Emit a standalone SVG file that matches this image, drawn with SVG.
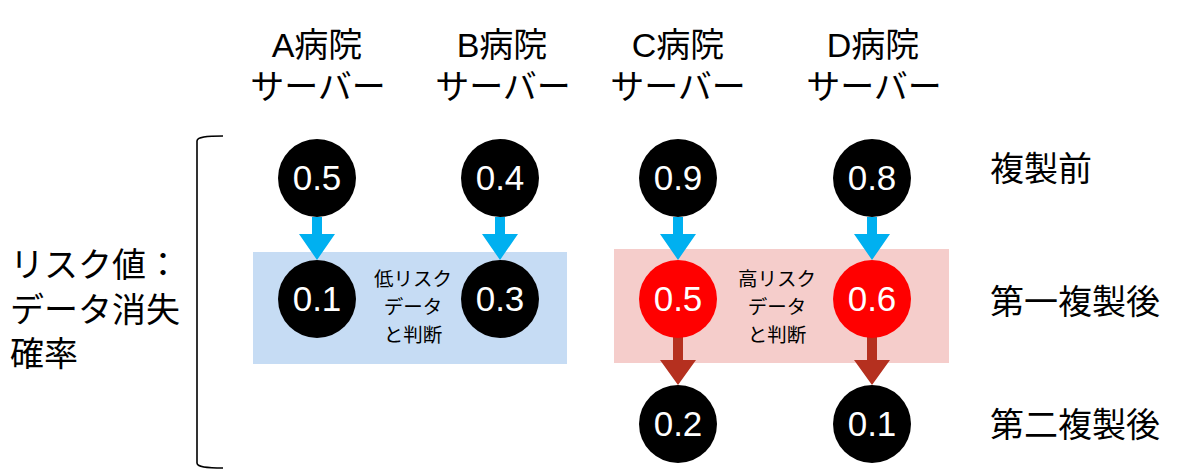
<svg xmlns="http://www.w3.org/2000/svg" width="1184" height="476" viewBox="0 0 1184 476">
<style>
.big{font-family:"Liberation Sans","Noto Sans CJK JP",sans-serif;font-size:34px;fill:#000}
.hdr{text-anchor:middle}
.small{font-family:"Noto Sans CJK JP",sans-serif;font-size:19.5px;fill:#000;text-anchor:middle}
.num{font-family:"Liberation Sans","Noto Sans CJK JP",sans-serif;font-size:35px;fill:#fff;text-anchor:middle}
.blk{fill:#000}
.red{fill:#ff0000}
.ba{fill:#00b0f0}
.ra{fill:#b5301f}
</style>
<rect width="1184" height="476" fill="#fff"/>
<g id="bg-low"><rect x="253" y="252" width="314" height="112" fill="#c6dcf4"/>
<text class="small" x="413" y="286">低リスク</text><text class="small" x="413" y="314">データ</text><text class="small" x="413" y="342">と判断</text></g>
<g id="bg-high"><rect x="614" y="249" width="335" height="114" fill="#f5cdcb"/>
<text class="small" x="777" y="286">高リスク</text><text class="small" x="777" y="314">データ</text><text class="small" x="777" y="342">と判断</text></g>
<g id="headers">
<text class="big hdr" x="317" y="57">A病院</text><text class="big hdr" x="318" y="99">サーバー</text>
<text class="big hdr" x="502" y="57">B病院</text><text class="big hdr" x="503" y="99">サーバー</text>
<text class="big hdr" x="678" y="57">C病院</text><text class="big hdr" x="678" y="99">サーバー</text>
<text class="big hdr" x="873" y="57">D病院</text><text class="big hdr" x="874" y="99">サーバー</text>
</g>
<g id="row-labels">
<text class="big" x="990" y="181">複製前</text>
<text class="big" x="990" y="314">第一複製後</text>
<text class="big" x="990" y="437">第二複製後</text>
</g>
<g id="left-label">
<text class="big" x="10" y="277">リスク値：</text>
<text class="big" x="10" y="322">データ消失</text>
<text class="big" x="10" y="366">確率</text>
<path d="M223,136 C206,136 197,137 197,141 L197,463 C197,467 206,468 223,468" fill="none" stroke="#000" stroke-width="1.6"/>
</g>
<g id="connectors">
<path class="ba" d="M312,217 h10 v17 h13 l-18,26 l-18,-26 h13 z"/>
<path class="ba" d="M495,217 h10 v17 h13 l-18,26 l-18,-26 h13 z"/>
<path class="ba" d="M673,217 h10 v17 h13 l-18,26 l-18,-26 h13 z"/>
<path class="ba" d="M867,217 h10 v17 h13 l-18,26 l-18,-26 h13 z"/>
<path class="ra" d="M673,337 h10 v23 h13 l-18,25 l-18,-25 h13 z"/>
<path class="ra" d="M867,337 h10 v23 h13 l-18,25 l-18,-25 h13 z"/>
</g>
<g id="a1"><circle class="blk" cx="317" cy="178" r="39"/><text class="num" x="317" y="190">0.5</text></g>
<g id="b1"><circle class="blk" cx="500" cy="178" r="39"/><text class="num" x="500" y="190">0.4</text></g>
<g id="c1"><circle class="blk" cx="678" cy="178" r="39"/><text class="num" x="678" y="190">0.9</text></g>
<g id="d1"><circle class="blk" cx="872" cy="178" r="39"/><text class="num" x="872" y="190">0.8</text></g>
<g id="a2"><circle class="blk" cx="317" cy="299" r="39"/><text class="num" x="317" y="311">0.1</text></g>
<g id="b2"><circle class="blk" cx="500" cy="299" r="39"/><text class="num" x="500" y="311">0.3</text></g>
<g id="c2"><circle class="red" cx="678" cy="299" r="39"/><text class="num" x="678" y="311">0.5</text></g>
<g id="d2"><circle class="red" cx="872" cy="299" r="39"/><text class="num" x="872" y="311">0.6</text></g>
<g id="c3"><circle class="blk" cx="678" cy="424" r="39"/><text class="num" x="678" y="436">0.2</text></g>
<g id="d3"><circle class="blk" cx="872" cy="424" r="39"/><text class="num" x="872" y="436">0.1</text></g>
</svg>
